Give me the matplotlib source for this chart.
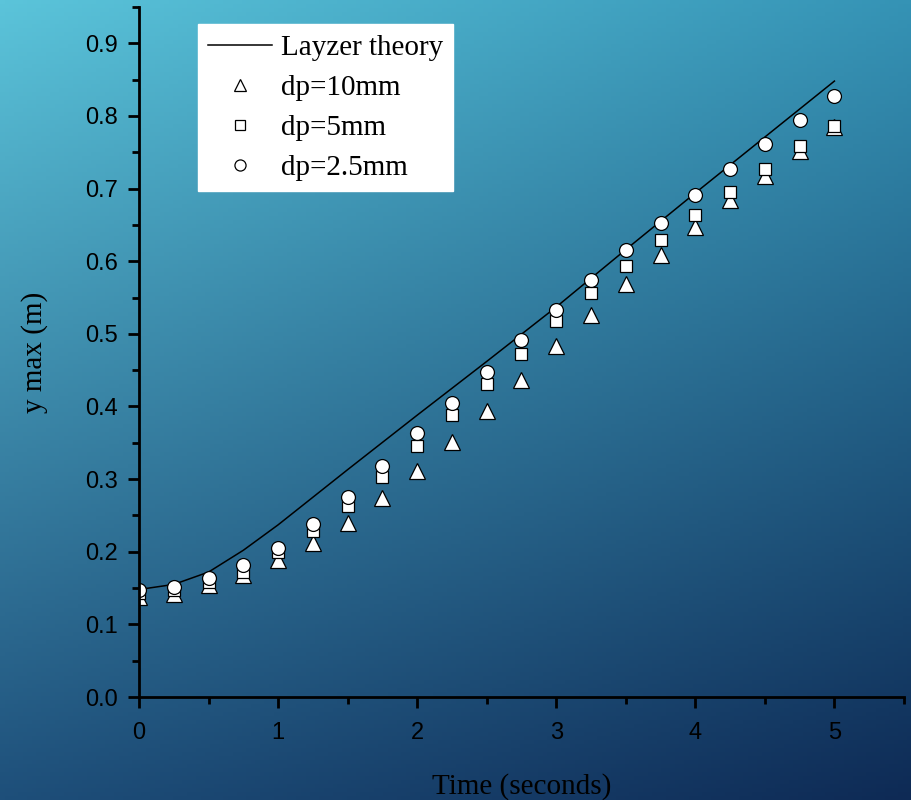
import numpy as np
import matplotlib
matplotlib.use("Agg")
import matplotlib.pyplot as plt
from matplotlib.ticker import MultipleLocator, FormatStrFormatter

# Layzer theory curve
t_theory = [0, 0.25, 0.5, 0.75, 1.0, 1.5, 2.0, 2.5, 3.0, 3.5, 4.0, 4.5, 5.0]
y_theory = [0.148, 0.155, 0.172, 0.202, 0.237, 0.313, 0.388, 0.462, 0.537,
            0.616, 0.694, 0.771, 0.848]

t_data = [0, 0.25, 0.5, 0.75, 1.0, 1.25, 1.5, 1.75, 2.0, 2.25, 2.5,
          2.75, 3.0, 3.25, 3.5, 3.75, 4.0, 4.25, 4.5, 4.75, 5.0]
y_dp10 = [0.138, 0.142, 0.154, 0.168, 0.188, 0.212, 0.240, 0.274, 0.311,
          0.351, 0.394, 0.437, 0.483, 0.526, 0.568, 0.609, 0.647, 0.684,
          0.718, 0.752, 0.785]
y_dp5 = [0.143, 0.147, 0.158, 0.172, 0.200, 0.229, 0.263, 0.303, 0.346,
         0.388, 0.431, 0.472, 0.517, 0.556, 0.594, 0.629, 0.663, 0.695,
         0.727, 0.758, 0.786]
y_dp25 = [0.147, 0.152, 0.164, 0.182, 0.205, 0.238, 0.275, 0.318, 0.364,
          0.405, 0.448, 0.492, 0.533, 0.574, 0.615, 0.653, 0.691, 0.727,
          0.761, 0.794, 0.827]

fig = plt.figure(figsize=(9.12, 8), dpi=100)

# diagonal gradient background
bg = fig.add_axes([0, 0, 1, 1], zorder=-1)
tl = np.array([0x5B, 0xC4, 0xDA]) / 255
tr = np.array([0x35, 0x93, 0xB5]) / 255
bl = np.array([0x1E, 0x4F, 0x7A]) / 255
br = np.array([0x0E, 0x2A, 0x55]) / 255
u = np.linspace(0, 1, 200)[None, :, None]
v = np.linspace(0, 1, 200)[:, None, None]
img = (1 - v) * ((1 - u) * tl + u * tr) + v * ((1 - u) * bl + u * br)
bg.imshow(img, aspect="auto", extent=[0, 1, 0, 1], origin="upper")
bg.axis("off")

ax = fig.add_axes([0.1524, 0.12875, 0.8388, 0.8625])
ax.patch.set_alpha(0)

ax.plot(t_theory, y_theory, color="k", lw=1.1, label="Layzer theory")
mk = dict(ls="none", mfc="white", mec="k", mew=0.9)
ax.plot(t_data, y_dp10, marker="^", ms=11, label="dp=10mm", **mk)
ax.plot(t_data, y_dp5, marker="s", ms=8.5, label="dp=5mm", **mk)
ax.plot(t_data, y_dp25, marker="o", ms=10, label="dp=2.5mm", **mk)

ax.set_xlim(0, 5.5)
ax.set_ylim(0, 0.95)
ax.xaxis.set_major_locator(MultipleLocator(1))
ax.xaxis.set_minor_locator(MultipleLocator(0.5))
ax.yaxis.set_major_locator(MultipleLocator(0.1))
ax.yaxis.set_minor_locator(MultipleLocator(0.05))
ax.yaxis.set_major_formatter(FormatStrFormatter("%.1f"))
for s in ["top", "right"]:
    ax.spines[s].set_visible(False)
for s in ["left", "bottom"]:
    ax.spines[s].set_linewidth(2)
ax.tick_params(which="major", direction="out", length=8, width=2,
               labelsize=17)
ax.tick_params(axis="x", which="major", pad=10)
ax.tick_params(axis="y", which="major", pad=7)
ax.tick_params(which="minor", direction="out", length=5, width=2)
for lab in ax.get_xticklabels() + ax.get_yticklabels():
    lab.set_fontfamily("Liberation Sans")

ax.set_xlabel("Time (seconds)", fontfamily="Liberation Serif", fontsize=21,
              labelpad=21)
ax.set_ylabel("y max (m)", fontfamily="Liberation Serif", fontsize=21,
              labelpad=27)

leg = ax.legend(loc="upper left", bbox_to_anchor=(0.077, 0.975),
                prop={"family": "Liberation Serif", "size": 21},
                frameon=True, fancybox=False, framealpha=1, edgecolor="white",
                handlelength=2.2, handletextpad=0.3, labelspacing=0.47,
                borderpad=0.35, borderaxespad=0, markerscale=0.8)
leg.get_frame().set_facecolor("white")

fig.savefig("out.png", dpi=100)
